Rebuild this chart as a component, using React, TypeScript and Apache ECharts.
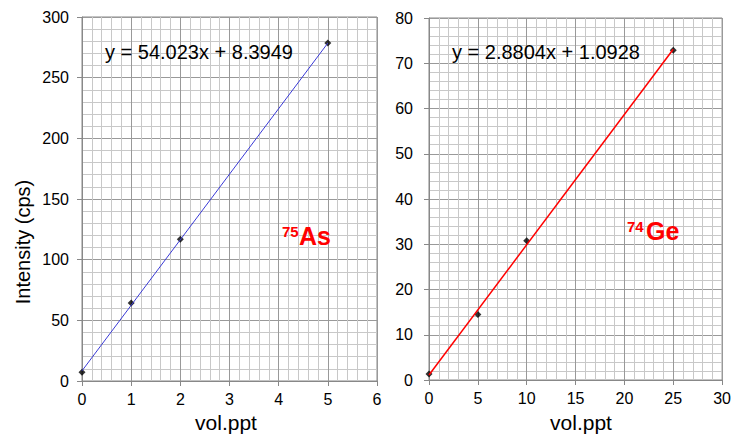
import React, { useEffect, useRef } from "react";
import * as echarts from "echarts";

// Left panel: 75As
const asVol = [0, 1, 2, 5];
const asIntensity = [7.2, 64.3, 116.8, 278.6];
const asSlope = 54.023;
const asIntercept = 8.3949;
const asEquation = "y = 54.023x + 8.3949";

// Right panel: 74Ge
const geVol = [0, 5, 10, 25];
const geIntensity = [1.3, 14.5, 30.8, 72.9];
const geSlope = 2.8804;
const geIntercept = 1.0928;
const geEquation = "y = 2.8804x + 1.0928";

const FONT = "'Liberation Sans', Arial, Helvetica, sans-serif";

function trend(xs: number[], m: number, b: number) {
  const lo = Math.min(...xs);
  const hi = Math.max(...xs);
  return [
    [lo, m * lo + b],
    [hi, m * hi + b],
  ];
}

function makeAxis(gridIndex: number, max: number, interval: number, labelMargin: number) {
  return {
    type: "value",
    gridIndex,
    min: 0,
    max,
    interval,
    axisLine: { show: true, lineStyle: { color: "#888", width: 1 } },
    axisTick: { show: true, inside: false, length: 5, lineStyle: { color: "#888" } },
    axisLabel: {
      fontSize: 16,
      color: "#000",
      fontFamily: FONT,
      margin: labelMargin,
    },
    splitLine: { show: true, lineStyle: { color: "#999", width: 1 } },
    minorTick: { show: false, splitNumber: 5 },
    minorSplitLine: { show: true, lineStyle: { color: "#c8c8c8", width: 1 } },
  };
}

export default function App() {
  const ref = useRef<HTMLDivElement>(null);
  useEffect(() => {
    if (!ref.current) return;
    const chart = echarts.init(ref.current, undefined, { renderer: "svg" });
    const asPts = asVol.map((v, i) => [v, asIntensity[i]]);
    const gePts = geVol.map((v, i) => [v, geIntensity[i]]);
    chart.setOption({
      animation: false,
      backgroundColor: "#fff",
      grid: [
        { left: 82, top: 17, width: 295, height: 364, show: true, borderColor: "#888", borderWidth: 1 },
        { left: 429, top: 18, width: 295, height: 362, show: true, borderColor: "#888", borderWidth: 1 },
      ],
      xAxis: [makeAxis(0, 6, 1, 10), makeAxis(1, 30, 5, 10)],
      yAxis: [makeAxis(0, 300, 50, 13), makeAxis(1, 80, 10, 16)],
      series: [
        {
          type: "scatter",
          xAxisIndex: 0,
          yAxisIndex: 0,
          data: asPts,
          symbol: "diamond",
          symbolSize: 7,
          itemStyle: { color: "#000" },
          z: 2,
        },
        {
          type: "line",
          xAxisIndex: 0,
          yAxisIndex: 0,
          data: trend(asVol, asSlope, asIntercept),
          showSymbol: false,
          lineStyle: { color: "#3b3bd6", width: 1 },
          z: 3,
        },
        {
          type: "scatter",
          xAxisIndex: 1,
          yAxisIndex: 1,
          data: gePts,
          symbol: "diamond",
          symbolSize: 7,
          itemStyle: { color: "#000" },
          z: 2,
        },
        {
          type: "line",
          xAxisIndex: 1,
          yAxisIndex: 1,
          data: trend(geVol, geSlope, geIntercept),
          showSymbol: false,
          lineStyle: { color: "#ff0000", width: 1.5 },
          z: 3,
        },
      ],
      graphic: [
        {
          type: "text",
          x: 105,
          y: 52,
          style: { text: asEquation, font: `20px ${FONT}`, fill: "#000", verticalAlign: "middle" },
          z: 10,
        },
        {
          type: "text",
          x: 452,
          y: 52,
          style: { text: geEquation, font: `20px ${FONT}`, fill: "#000", verticalAlign: "middle" },
          z: 10,
        },
        {
          type: "text",
          x: 282,
          y: 231,
          style: { text: "75", font: `bold 15px ${FONT}`, fill: "#ff0000", verticalAlign: "middle" },
          z: 10,
        },
        {
          type: "text",
          x: 299,
          y: 236,
          style: { text: "As", font: `bold 25px ${FONT}`, fill: "#ff0000", verticalAlign: "middle" },
          z: 10,
        },
        {
          type: "text",
          x: 627,
          y: 226,
          style: { text: "74", font: `bold 15px ${FONT}`, fill: "#ff0000", verticalAlign: "middle" },
          z: 10,
        },
        {
          type: "text",
          x: 646,
          y: 231,
          style: { text: "Ge", font: `bold 25px ${FONT}`, fill: "#ff0000", verticalAlign: "middle" },
          z: 10,
        },
        {
          type: "text",
          x: 23,
          y: 242,
          rotation: Math.PI / 2,
          style: {
            text: "Intensity (cps)",
            font: `20px ${FONT}`,
            fill: "#000",
            align: "center",
            verticalAlign: "middle",
          },
          z: 10,
        },
        {
          type: "text",
          x: 226,
          y: 422,
          style: { text: "vol.ppt", font: `21px ${FONT}`, fill: "#000", align: "center", verticalAlign: "middle" },
          z: 10,
        },
        {
          type: "text",
          x: 581,
          y: 422,
          style: { text: "vol.ppt", font: `21px ${FONT}`, fill: "#000", align: "center", verticalAlign: "middle" },
          z: 10,
        },
      ],
    });
    return () => chart.dispose();
  }, []);
  return (
    <div
      ref={ref}
      style={{ position: "fixed", left: 0, top: 0, width: 734, height: 434, background: "#fff" }}
    />
  );
}
